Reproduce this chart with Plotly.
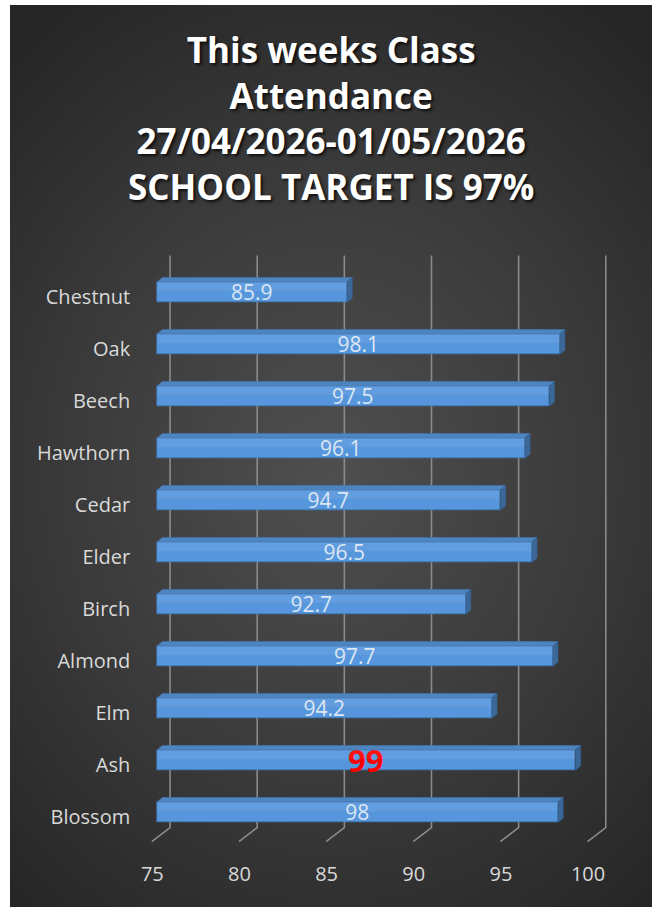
import numpy as np
import plotly.graph_objects as go

# ---------------- data ----------------
classes = ["Chestnut", "Oak", "Beech", "Hawthorn", "Cedar", "Elder",
           "Birch", "Almond", "Elm", "Ash", "Blossom"]
attendance = [85.9, 98.1, 97.5, 96.1, 94.7, 96.5, 92.7, 97.7, 94.2, 99, 98]
highlight = ["Ash"]
x_ticks = [75, 80, 85, 90, 95, 100]
axis_min = 75
title_lines = ["This weeks Class", "Attendance", "27/04/2026-01/05/2026",
               "SCHOOL TARGET IS 97%"]

# ---------------- geometry (figure pixels) ----------------
W, H = 652, 907
FONT = "Open Sans"
px_left, px_right = 131.2, 627.9          # x range 73.5 .. 102
px_top, px_bottom = 245.2, 858.8          # y range -0.9 .. 10.9
xr = [73.5, 102]
yr = [10.9, -0.9]
xdom = [px_left / W, px_right / W]
ydom = [1 - px_bottom / H, 1 - px_top / H]

bar_w = 0.395
dx, dy = 0.29, 0.08          # 3D depth of bars (data units)
gx_back, gx_front = 0.73, -0.32
gy_top, gy_back, gy_front = -0.70, 10.30, 10.57

ypos = list(range(len(classes)))

fig = go.Figure()

# background radial gradient (xy subplot, drawn first)
gx = np.linspace(0, 1, 60)
gy = np.linspace(0, 1, 80)
GX, GY = np.meshgrid(gx, gy)
dist = np.sqrt(((GX - 0.5) / 0.75) ** 2 + ((GY - 0.48) / 0.62) ** 2)
fig.add_trace(go.Heatmap(x=gx, y=gy, z=np.clip(dist, 0, 1), zmin=0, zmax=1,
                         colorscale=[[0, "#4f4f4f"], [0.55, "#3a3a3a"], [1, "#262626"]],
                         showscale=False, zsmooth="best", hoverinfo="skip",
                         xaxis="x", yaxis="y"))

# back-wall gridlines with floor diagonals (x2y2 subplot)
gxs, gys = [], []
for v in x_ticks:
    gxs += [v + gx_back, v + gx_back, v + gx_front, None]
    gys += [gy_top, gy_back, gy_front, None]
fig.add_trace(go.Scatter(x=gxs, y=gys, mode="lines",
                         line=dict(color="#8a8a8a", width=1.6),
                         hoverinfo="skip", showlegend=False,
                         xaxis="x2", yaxis="y2"))

# bars front faces (x3y3 subplot)
texts, tcolors, tsizes = [], [], []
for c, v in zip(classes, attendance):
    if c in highlight:
        texts.append(f"<b>{v:g}</b>")
        tcolors.append("#ff0000")
        tsizes.append(31)
    else:
        texts.append(f"{v:g}")
        tcolors.append("#dce6f2")
        tsizes.append(21)

fig.add_trace(go.Bar(
    y=ypos, x=[v - axis_min for v in attendance], base=axis_min,
    orientation="h", width=bar_w,
    marker=dict(color="#5596dd", line=dict(color="#3f7bbd", width=0.8)),
    text=texts, textposition="inside", insidetextanchor="middle",
    constraintext="none", textangle=0,
    textfont=dict(family=FONT, color=tcolors, size=tsizes),
    hoverinfo="skip", showlegend=False, xaxis="x3", yaxis="y3"))

# upper highlight of front face (subtle gradient)
hx, hy = [], []
for y, v in zip(ypos, attendance):
    y0 = y - bar_w / 2
    hx += [axis_min, v, v, axis_min, axis_min, None]
    hy += [y0, y0, y0 + bar_w * 0.45, y0 + bar_w * 0.45, y0, None]
fig.add_trace(go.Scatter(x=hx, y=hy, mode="lines", fill="toself",
                         fillcolor="rgba(255,255,255,0.07)", line=dict(width=0),
                         hoverinfo="skip", showlegend=False,
                         xaxis="x3", yaxis="y3"))

# top faces and side faces
tx, ty = [], []
sx, sy = [], []
for y, v in zip(ypos, attendance):
    y0 = y - bar_w / 2
    y1 = y + bar_w / 2
    tx += [axis_min, v, v + dx, axis_min + dx, axis_min, None]
    ty += [y0, y0, y0 - dy, y0 - dy, y0, None]
    sx += [v, v + dx, v + dx, v, v, None]
    sy += [y0, y0 - dy, y1 - dy, y1, y0, None]
fig.add_trace(go.Scatter(x=tx, y=ty, mode="lines", fill="toself",
                         fillcolor="#4f86c2", line=dict(color="#4477b0", width=0.6),
                         hoverinfo="skip", showlegend=False,
                         xaxis="x3", yaxis="y3"))
fig.add_trace(go.Scatter(x=sx, y=sy, mode="lines", fill="toself",
                         fillcolor="#3b6898", line=dict(color="#355e8a", width=0.6),
                         hoverinfo="skip", showlegend=False,
                         xaxis="x3", yaxis="y3"))

hidden = dict(visible=False, fixedrange=True)
tickfont = dict(family=FONT, size=20, color="#d9d9d9")

fig.update_layout(
    width=W, height=H,
    margin=dict(l=0, r=0, t=0, b=0),
    paper_bgcolor="white",
    plot_bgcolor="rgba(0,0,0,0)",
    showlegend=False,
    bargap=0,
    xaxis=dict(domain=[10 / W, 1], range=[0, 1], **hidden),
    yaxis=dict(domain=[0, 1 - 5 / H], range=[0, 1], **hidden),
    xaxis2=dict(domain=xdom, range=xr, anchor="y2", **hidden),
    yaxis2=dict(domain=ydom, range=yr, anchor="x2", **hidden),
    xaxis3=dict(domain=xdom, range=xr, anchor="y3", showgrid=False,
                zeroline=False, showline=False, ticks="",
                tickvals=x_ticks, ticktext=[str(t) for t in x_ticks],
                tickfont=tickfont, ticklabelshift=-5, ticklabelstandoff=1,
                fixedrange=True),
    yaxis3=dict(domain=ydom, range=yr, anchor="x3", showgrid=False,
                zeroline=False, showline=False, ticks="",
                tickvals=ypos, ticktext=classes, tickfont=tickfont,
                ticklabelshift=-5, fixedrange=True),
    annotations=[dict(
        text="<br>".join(title_lines), xref="paper", yref="paper",
        x=331 / W, y=1 - 118.5 / H, xanchor="center", yanchor="middle",
        showarrow=False,
        font=dict(family=FONT, size=35, color="#ffffff", weight="bold",
                  shadow="2px 2px 3px rgba(0,0,0,0.75)"),
    )],
)

fig.write_html(
    "out.html",
    config={"displayModeBar": False},
    post_script="document.body.style.margin='0';document.body.style.overflow='hidden';",
)
